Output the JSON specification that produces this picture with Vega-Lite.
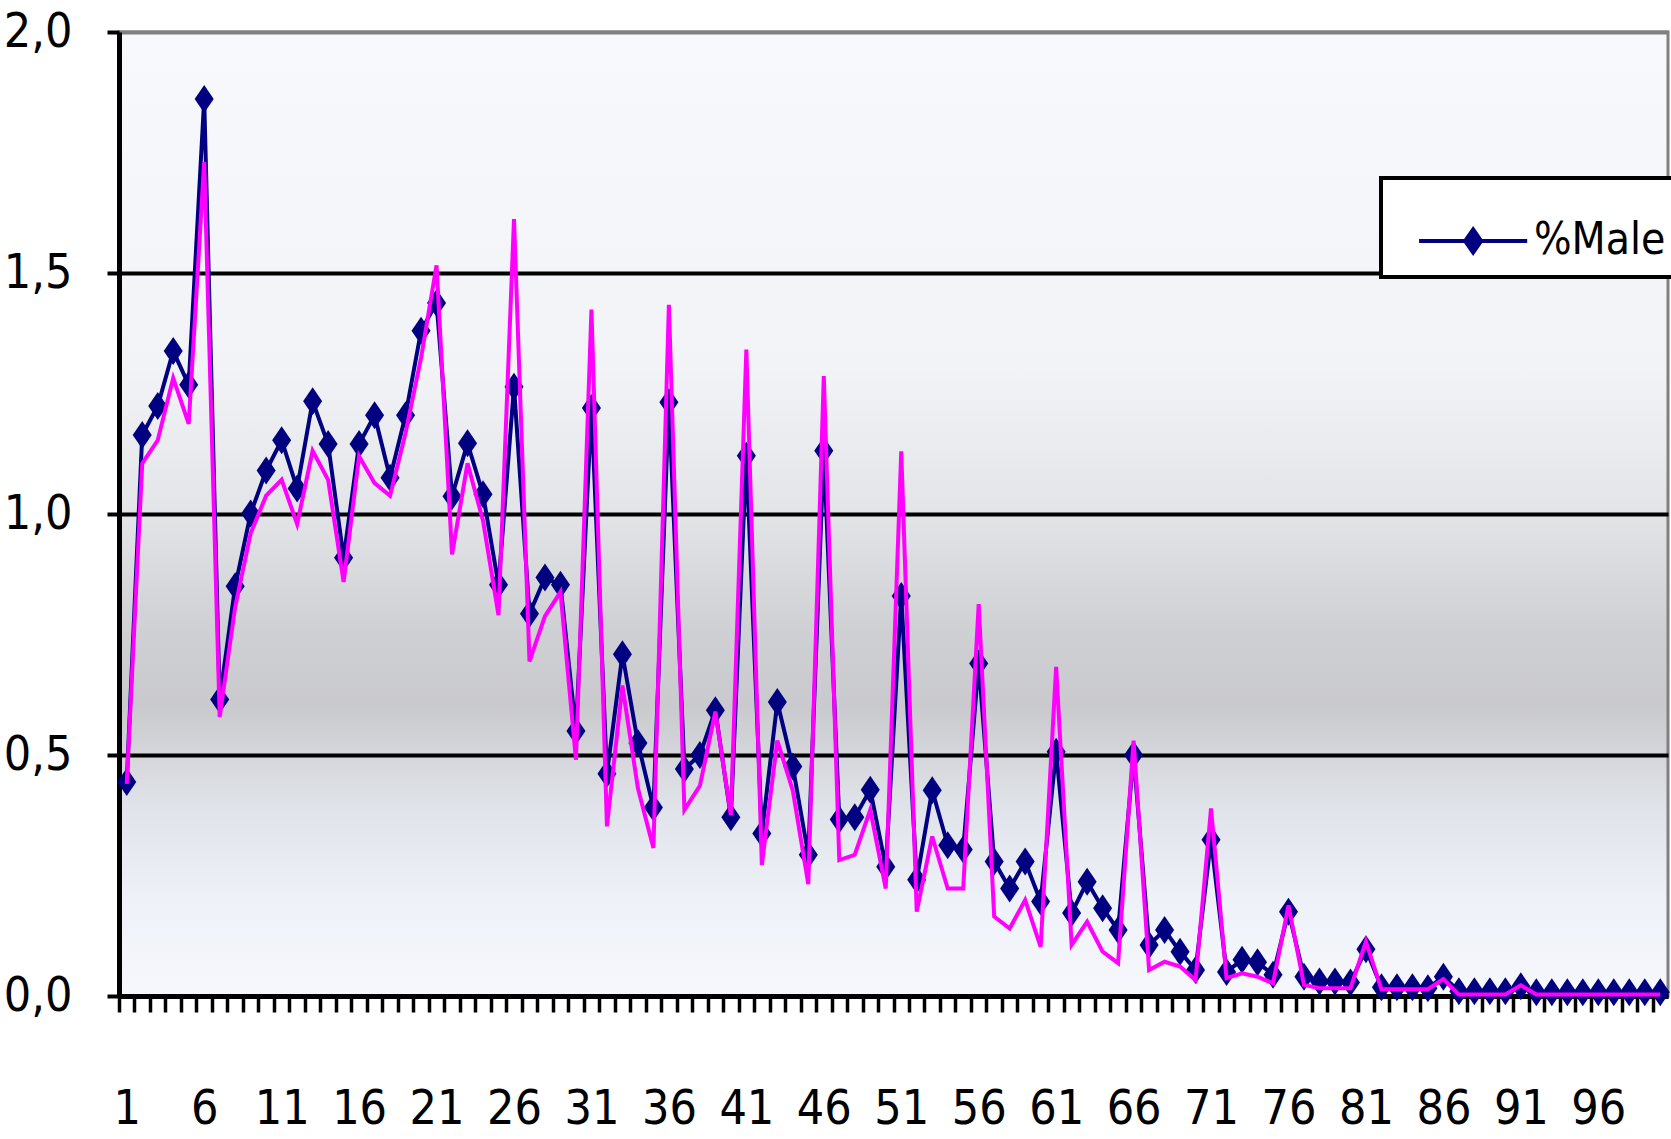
{
  "$schema": "https://vega.github.io/schema/vega-lite/v6.json",
  "width": 1549,
  "height": 964,
  "autosize": {"type": "none"},
  "padding": {"left": 119, "top": 32, "right": 3, "bottom": 143},
  "background": "white",
  "config": {
    "font": "DejaVu Sans Condensed, Liberation Sans, Arial, sans-serif",
    "legend": {"strokeWidth": 4},
    "view": {
      "stroke": "#808080",
      "strokeWidth": 3,
      "fill": {
        "gradient": "linear", "x1": 0, "y1": 0, "x2": 0, "y2": 1,
        "stops": [
          {"offset": 0, "color": "#f8f9fd"},
          {"offset": 0.35, "color": "#f1f3f7"},
          {"offset": 0.5, "color": "#e2e4e8"},
          {"offset": 0.62, "color": "#cfd0d4"},
          {"offset": 0.7, "color": "#cacace"},
          {"offset": 0.8, "color": "#dfe2e8"},
          {"offset": 0.9, "color": "#eef1f8"},
          {"offset": 1, "color": "#f6f8fc"}
        ]
      }
    }
  },
  "data": {
    "values": [
      {"n":1,"male":0.444,"female":0.44},
      {"n":2,"male":1.164,"female":1.105},
      {"n":3,"male":1.224,"female":1.153},
      {"n":4,"male":1.338,"female":1.282},
      {"n":5,"male":1.268,"female":1.187},
      {"n":6,"male":1.861,"female":1.73},
      {"n":7,"male":0.615,"female":0.579},
      {"n":8,"male":0.85,"female":0.807},
      {"n":9,"male":1.001,"female":0.96},
      {"n":10,"male":1.09,"female":1.038},
      {"n":11,"male":1.153,"female":1.071},
      {"n":12,"male":1.053,"female":0.979},
      {"n":13,"male":1.234,"female":1.131},
      {"n":14,"male":1.145,"female":1.071},
      {"n":15,"male":0.909,"female":0.859},
      {"n":16,"male":1.145,"female":1.12},
      {"n":17,"male":1.205,"female":1.064},
      {"n":18,"male":1.075,"female":1.038},
      {"n":19,"male":1.205,"female":1.168},
      {"n":20,"male":1.38,"female":1.324},
      {"n":21,"male":1.438,"female":1.516},
      {"n":22,"male":1.037,"female":0.916},
      {"n":23,"male":1.147,"female":1.105},
      {"n":24,"male":1.041,"female":0.986},
      {"n":25,"male":0.853,"female":0.79},
      {"n":26,"male":1.264,"female":1.612},
      {"n":27,"male":0.793,"female":0.694},
      {"n":28,"male":0.868,"female":0.788},
      {"n":29,"male":0.853,"female":0.838},
      {"n":30,"male":0.55,"female":0.49},
      {"n":31,"male":1.22,"female":1.424},
      {"n":32,"male":0.461,"female":0.352},
      {"n":33,"male":0.709,"female":0.644},
      {"n":34,"male":0.525,"female":0.431},
      {"n":35,"male":0.391,"female":0.307},
      {"n":36,"male":1.232,"female":1.434},
      {"n":37,"male":0.471,"female":0.386},
      {"n":38,"male":0.5,"female":0.436},
      {"n":39,"male":0.593,"female":0.59},
      {"n":40,"male":0.371,"female":0.375},
      {"n":41,"male":1.121,"female":1.341},
      {"n":42,"male":0.337,"female":0.272},
      {"n":43,"male":0.61,"female":0.53},
      {"n":44,"male":0.476,"female":0.426},
      {"n":45,"male":0.293,"female":0.232},
      {"n":46,"male":1.131,"female":1.286},
      {"n":47,"male":0.366,"female":0.282},
      {"n":48,"male":0.371,"female":0.293},
      {"n":49,"male":0.428,"female":0.386},
      {"n":50,"male":0.268,"female":0.223},
      {"n":51,"male":0.83,"female":1.13},
      {"n":52,"male":0.241,"female":0.175},
      {"n":53,"male":0.427,"female":0.331},
      {"n":54,"male":0.313,"female":0.223},
      {"n":55,"male":0.304,"female":0.223},
      {"n":56,"male":0.69,"female":0.813},
      {"n":57,"male":0.279,"female":0.165},
      {"n":58,"male":0.223,"female":0.14},
      {"n":59,"male":0.279,"female":0.199},
      {"n":60,"male":0.196,"female":0.102},
      {"n":61,"male":0.507,"female":0.683},
      {"n":62,"male":0.172,"female":0.106},
      {"n":63,"male":0.237,"female":0.154},
      {"n":64,"male":0.182,"female":0.092},
      {"n":65,"male":0.137,"female":0.068},
      {"n":66,"male":0.5,"female":0.53},
      {"n":67,"male":0.106,"female":0.054},
      {"n":68,"male":0.137,"female":0.071},
      {"n":69,"male":0.092,"female":0.061},
      {"n":70,"male":0.054,"female":0.033},
      {"n":71,"male":0.324,"female":0.389},
      {"n":72,"male":0.05,"female":0.037},
      {"n":73,"male":0.075,"female":0.047},
      {"n":74,"male":0.07,"female":0.04},
      {"n":75,"male":0.044,"female":0.026},
      {"n":76,"male":0.175,"female":0.188},
      {"n":77,"male":0.04,"female":0.023},
      {"n":78,"male":0.03,"female":0.016},
      {"n":79,"male":0.03,"female":0.016},
      {"n":80,"male":0.028,"female":0.016},
      {"n":81,"male":0.097,"female":0.113},
      {"n":82,"male":0.018,"female":0.014},
      {"n":83,"male":0.018,"female":0.014},
      {"n":84,"male":0.018,"female":0.014},
      {"n":85,"male":0.016,"female":0.014},
      {"n":86,"male":0.04,"female":0.035},
      {"n":87,"male":0.01,"female":0.003},
      {"n":88,"male":0.01,"female":0.003},
      {"n":89,"male":0.01,"female":0.003},
      {"n":90,"male":0.01,"female":0.003},
      {"n":91,"male":0.02,"female":0.022},
      {"n":92,"male":0.008,"female":0.003},
      {"n":93,"male":0.008,"female":0.003},
      {"n":94,"male":0.008,"female":0.003},
      {"n":95,"male":0.008,"female":0.003},
      {"n":96,"male":0.008,"female":0.003},
      {"n":97,"male":0.008,"female":0.003},
      {"n":98,"male":0.008,"female":0.003},
      {"n":99,"male":0.008,"female":0.003},
      {"n":100,"male":0.008,"female":0.003}
    ]
  },
  "encoding": {
    "x": {
      "field": "n",
      "type": "quantitative",
      "scale": {"domain": [0.5, 100.5], "nice": false, "zero": false},
      "axis": {
        "title": null,
        "values": [1,2,3,4,5,6,7,8,9,10,11,12,13,14,15,16,17,18,19,20,21,22,23,24,25,26,27,28,29,30,31,32,33,34,35,36,37,38,39,40,41,42,43,44,45,46,47,48,49,50,51,52,53,54,55,56,57,58,59,60,61,62,63,64,65,66,67,68,69,70,71,72,73,74,75,76,77,78,79,80,81,82,83,84,85,86,87,88,89,90,91,92,93,94,95,96,97,98,99,100,101],
        "labelExpr": "(datum.value - 1) % 5 == 0 && datum.value < 100 ? datum.value : ''",
        "tickOffset": -7.745,
        "labelOffset": 7.745,
        "tickSize": 16,
        "tickWidth": 3.5,
        "tickColor": "black",
        "domainColor": "black",
        "domainWidth": 5,
        "grid": false,
        "labelFontSize": 48,
        "labelColor": "black",
        "labelPadding": 73,
        "labelFlush": false,
        "labelOverlap": false,
        "labelBound": false
      }
    },
    "y": {
      "type": "quantitative",
      "scale": {"domain": [0, 2], "nice": false},
      "axis": {
        "title": null,
        "values": [0, 0.5, 1, 1.5, 2],
        "labelExpr": "replace(format(datum.value, '.1f'), '.', ',')",
        "grid": true,
        "gridColor": {"condition": {"test": "datum.value == 2", "value": "#808080"}, "value": "black"},
        "gridWidth": 4,
        "tickSize": 12,
        "tickWidth": 4,
        "tickColor": "black",
        "domainColor": "black",
        "domainWidth": 5,
        "labelFontSize": 48,
        "labelColor": "black",
        "labelPadding": 35,
        "labelFlush": false,
        "labelOverlap": false
      }
    }
  },
  "layer": [
    {
      "mark": {"type": "line", "color": "#000080", "strokeWidth": 4},
      "encoding": {"y": {"field": "male", "type": "quantitative"}}
    },
    {
      "mark": {"type": "point", "shape": "M0,-1L0.68,0L0,1L-0.68,0Z", "size": 784, "filled": true, "opacity": 1},
      "encoding": {
        "y": {"field": "male", "type": "quantitative"},
        "color": {
          "datum": "%Male",
          "scale": {"domain": ["%Male"], "range": ["#000080"]},
          "legend": {
            "title": null,
            "orient": "none",
            "legendX": 1262,
            "legendY": 146,
            "symbolType": "M-0.53,0L1.77,0M0.62,-0.245L0.79,0L0.62,0.245L0.45,0Z",
            "symbolSize": 8836,
            "symbolStrokeWidth": 4,
            "symbolStrokeColor": "#000080",
            "symbolFillColor": "#000080",
            "labelFontSize": 44,
            "labelColor": "black",
            "labelOffset": 41,
            "padding": 14,
            "strokeColor": "black",
            "fillColor": "white"
          }
        }
      }
    },
    {
      "mark": {"type": "line", "color": "#ff00ff", "strokeWidth": 4},
      "encoding": {"y": {"field": "female", "type": "quantitative"}}
    }
  ]
}
